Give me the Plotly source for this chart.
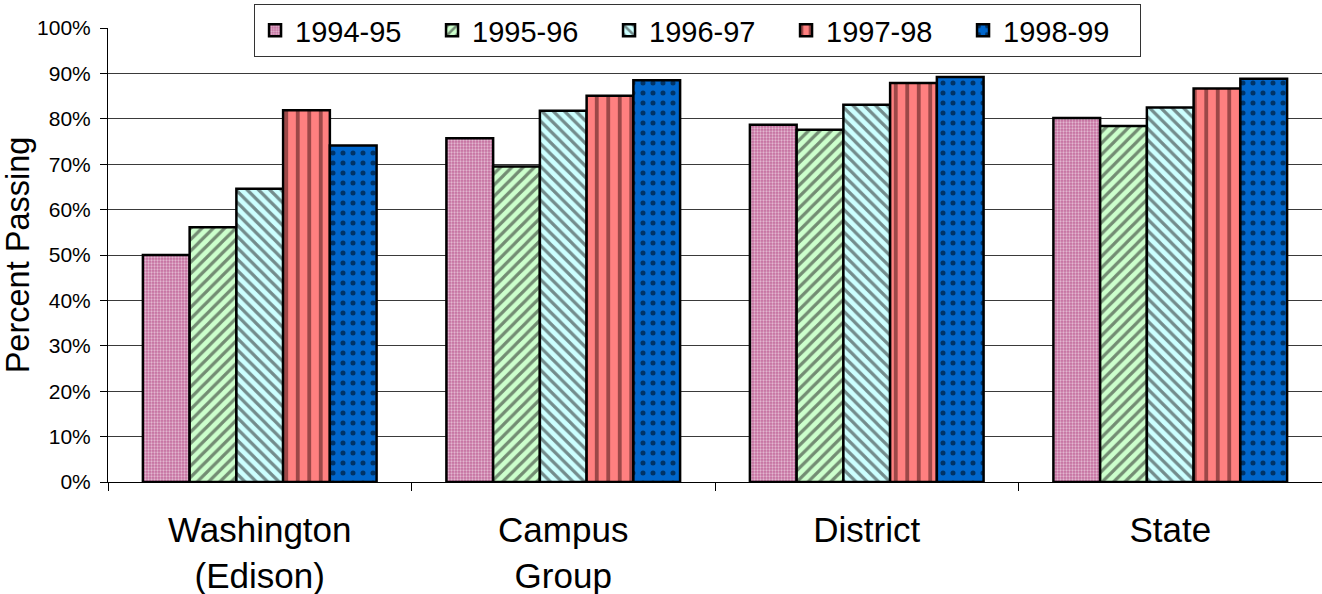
import plotly.graph_objects as go

categories = ["Washington<br>(Edison)", "Campus<br>Group", "District", "State"]
years = ["1994-95", "1995-96", "1996-97", "1997-98", "1998-99"]
v_1994_95 = [50.0, 75.7, 78.7, 80.2]
v_1995_96 = [56.1, 69.5, 77.6, 78.4]
v_1996_97 = [64.6, 81.8, 83.1, 82.5]
v_1997_98 = [81.9, 85.1, 87.9, 86.7]
v_1998_99 = [74.1, 88.5, 89.2, 88.8]
series = [v_1994_95, v_1995_96, v_1996_97, v_1997_98, v_1998_99]

styles = [
    dict(bg="#c46d9e", fg="#ffffff", shape=".", size=3, sol=0.45),
    dict(bg="#ccffcc", fg="#1a1a1a", shape="/", size=8, sol=0.4),
    dict(bg="#ccffff", fg="#1a1a1a", shape="\\", size=8, sol=0.4),
    dict(bg="#ff8080", fg="#3a1010", shape="|", size=11.5, sol=0.33),
    dict(bg="#0066cc", fg="#000000", shape=".", size=10, sol=0.2),
]

fig = go.Figure()
for name, vals, st in zip(years, series, styles):
    fig.add_trace(go.Bar(
        x=categories, y=vals, name=name,
        marker=dict(
            color=st["bg"],
            line=dict(color="black", width=2.5),
            pattern=dict(shape=st["shape"], bgcolor=st["bg"], fgcolor=st["fg"],
                         size=st["size"], solidity=st["sol"], fillmode="overlay"),
        ),
    ))

font_family = "Arial, Liberation Sans, sans-serif"
fig.update_layout(
    width=1322, height=594,
    margin=dict(l=108, r=0, t=28, b=112),
    paper_bgcolor="white", plot_bgcolor="white",
    barmode="group", bargap=0.23, bargroupgap=0,
    font=dict(family=font_family, color="black"),
    showlegend=True,
    legend=dict(
        orientation="h", x=0.1203, xanchor="left", y=1.053, yanchor="top",
        bgcolor="white", bordercolor="#333333", borderwidth=1,
        font=dict(size=29, family=font_family),
        entrywidth=132, entrywidthmode="pixels",
    ),
    xaxis=dict(
        showline=True, linecolor="black", linewidth=1,
        ticks="outside", tickson="boundaries", ticklen=8, tickcolor="black",
        tickfont=dict(size=35, family=font_family),
        ticklabelstandoff=17,
        showgrid=False,
    ),
    yaxis=dict(
        range=[0, 100], dtick=10, ticksuffix="%",
        showline=True, linecolor="black", linewidth=1,
        ticks="outside", ticklen=7, tickcolor="black",
        tickfont=dict(size=21, family=font_family),
        ticklabelstandoff=5,
        showgrid=True, gridcolor="#3a3a3a", gridwidth=1,
        title=dict(text="Percent Passing", font=dict(size=32.5, family=font_family), standoff=5),
        zeroline=False,
    ),
)

fig.write_html("out.html",
               config={"displayModeBar": False},
               post_script="document.body.style.margin='0';document.body.style.overflow='hidden';")
